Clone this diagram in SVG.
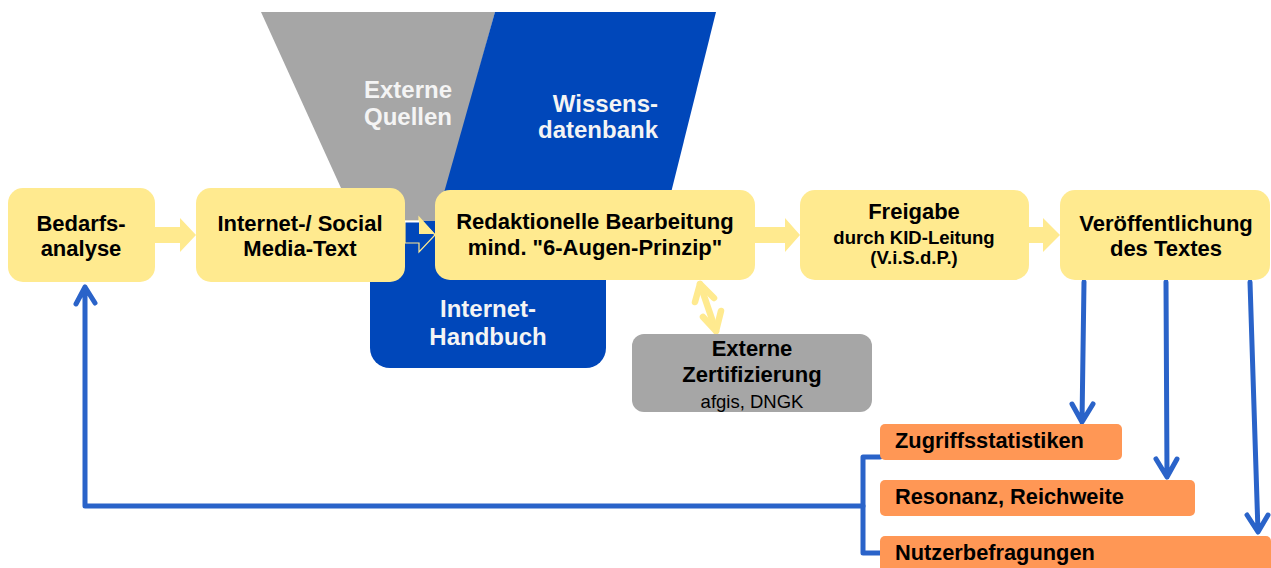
<svg xmlns="http://www.w3.org/2000/svg" width="1271" height="568" viewBox="0 0 1271 568">
<style>
.box{fill:#FFEA8F}
.org{fill:#FF9755}
.t{font-family:"Liberation Sans",Arial,sans-serif;font-weight:bold;font-size:22px;fill:#000;text-anchor:middle}
.w{font-family:"Liberation Sans",Arial,sans-serif;font-weight:bold;font-size:24px;fill:#F4F4F4}
.o{font-family:"Liberation Sans",Arial,sans-serif;font-weight:bold;font-size:21.8px;fill:#000}
.s{font-size:18.5px}
.blue{fill:none;stroke:#2A63C9;stroke-width:5;stroke-linecap:round;stroke-linejoin:round}
.ya{fill:#FFEA8F}
</style>
<rect width="1271" height="568" fill="#fff"/>
<g id="externe-quellen">
<polygon points="261,12 495,12 438,221 356,221" fill="#A6A6A6"/>
<text class="w" x="364" y="98">Externe</text>
<text class="w" x="364" y="125">Quellen</text>
</g>
<g id="wissensdatenbank">
<polygon points="495,12 716,12 664,221 436,221" fill="#0047BA"/>
<text class="w" x="658" y="112" text-anchor="end">Wissens-</text>
<text class="w" x="658" y="138" text-anchor="end">datenbank</text>
</g>
<g id="internet-handbuch">
<path d="M370,221 H606 V348 A20,20 0 0 1 586,368 H390 A20,20 0 0 1 370,348 Z" fill="#0047BA"/>
<text class="w" x="488" y="317" text-anchor="middle">Internet-</text>
<text class="w" x="488" y="345" text-anchor="middle">Handbuch</text>
</g>
<g id="connectors">
<polygon class="ya" points="155,227 180,227 180,218 196,235 180,252 180,243 155,243"/>
<polygon points="405,221 419,221 419,217 435,235 419,252 419,243 405,243" fill="#0047BA" stroke="#FFEA8F" stroke-width="1.2"/>
<polygon class="ya" points="419,217 435,234 419,234"/>
<line x1="405" y1="221.5" x2="419" y2="221.5" stroke="#fff" stroke-width="2"/>
<polygon class="ya" points="754,227 785,227 785,218 800,235 785,252 785,243 754,243"/>
<polygon class="ya" points="1029,227 1043,227 1043,218 1060,235 1043,252 1043,243 1029,243"/>
<g fill="none" stroke="#FFEA8F" stroke-width="6.5" stroke-linecap="round" stroke-linejoin="round">
<path d="M700,284 L716,331"/>
<path d="M695,302 L700,284 L714,298"/>
<path d="M703,317 L716,331 L721,311"/>
</g>
<path class="blue" d="M1084,282 L1082,422 M1072,404 L1082,422 L1093,404"/>
<path class="blue" d="M1166,282 L1167,477 M1156,459 L1167,477 L1177,459"/>
<path class="blue" d="M1250,282 L1258,532 M1247,515 L1258,532 L1268,515"/>
<path class="blue" d="M880,457 H863 V553 H880"/>
<path class="blue" d="M863,506 H85 V287 M76,304 L85,287 L95,303"/>
</g>
<g id="bedarfsanalyse">
<rect class="box" x="8" y="188" width="147" height="94" rx="15"/>
<text class="t" x="81" y="231">Bedarfs-</text>
<text class="t" x="81" y="256">analyse</text>
</g>
<g id="internet-social-media-text">
<rect class="box" x="196" y="188" width="209" height="94" rx="15"/>
<text class="t" x="300" y="231">Internet-/ Social</text>
<text class="t" x="300" y="256">Media-Text</text>
</g>
<g id="redaktionelle-bearbeitung">
<rect class="box" x="435" y="190" width="320" height="90" rx="15"/>
<text class="t" x="595" y="229">Redaktionelle Bearbeitung</text>
<text class="t" x="595" y="255">mind. "6-Augen-Prinzip"</text>
</g>
<g id="freigabe">
<rect class="box" x="800" y="190" width="229" height="90" rx="15"/>
<text class="t" x="914" y="219">Freigabe</text>
<text class="t s" x="914" y="244">durch KID-Leitung</text>
<text class="t s" x="914" y="264">(V.i.S.d.P.)</text>
</g>
<g id="veroeffentlichung">
<rect class="box" x="1060" y="190" width="210" height="90" rx="15"/>
<text class="t" x="1166" y="231">Veröffentlichung</text>
<text class="t" x="1166" y="256">des Textes</text>
</g>
<g id="externe-zertifizierung">
<rect x="632" y="334" width="240" height="78" rx="12" fill="#A6A6A6"/>
<text class="t" x="752" y="356">Externe</text>
<text class="t" x="752" y="382">Zertifizierung</text>
<text class="t s" x="752" y="408" style="font-weight:normal">afgis, DNGK</text>
</g>
<g id="zugriffsstatistiken">
<rect class="org" x="880" y="424" width="242" height="36" rx="5"/>
<text class="o" x="895" y="448">Zugriffsstatistiken</text>
</g>
<g id="resonanz">
<rect class="org" x="880" y="480" width="315" height="36" rx="5"/>
<text class="o" x="895" y="504">Resonanz, Reichweite</text>
</g>
<g id="nutzerbefragungen">
<rect class="org" x="880" y="536" width="391" height="40" rx="5"/>
<text class="o" x="895" y="560">Nutzerbefragungen</text>
</g>
</svg>
